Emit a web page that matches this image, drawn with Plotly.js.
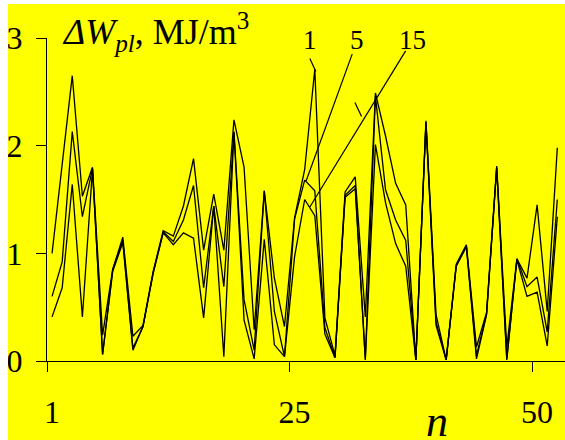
<!DOCTYPE html>
<html>
<head>
<meta charset="utf-8">
<script src="https://cdn.plot.ly/plotly-3.0.1.min.js"></script>
<style>
html,body{margin:0;padding:0;background:#ffffff;}
#chart{position:absolute;left:8px;top:4px;width:557px;height:436px;}
</style>
</head>
<body>
<div id="chart"></div>
<script>
// n index (categories)
const nIndex = [1,2,3,4,5,6,7,8,9,10,11,12,13,14,15,16,17,18,19,20,21,22,23,24,25,26,27,28,29,30,31,32,33,34,35,36,37,38,39,40,41,42,43,44,45,46,47,48,49,50,51];
// three curves (labelled 1, 5, 15)
const curve1 = [1.00,1.83,2.65,1.53,1.80,0.24,0.85,1.15,0.23,0.33,0.83,1.21,1.16,1.44,1.88,1.03,1.55,1.03,2.24,1.80,0.29,1.58,0.77,0.32,1.33,1.78,2.71,0.40,0.05,1.57,1.71,0.41,2.49,2.09,1.65,1.45,0.01,2.23,0.43,0.01,0.90,1.08,0.13,0.45,1.81,0.13,0.95,0.77,1.45,0.46,1.98];
const curve5 = [0.60,0.92,2.13,1.34,1.79,0.06,0.85,1.12,0.12,0.32,0.82,1.20,1.11,1.31,1.63,0.68,1.44,0.69,2.13,0.57,0.10,1.58,0.46,0.04,1.32,1.68,1.58,0.31,0.03,1.54,1.63,0.02,2.46,1.59,1.31,1.12,0.01,2.22,0.36,0.01,0.89,1.07,0.05,0.44,1.80,0.02,0.95,0.69,0.78,0.27,1.50];
const curve15 = [0.41,0.68,1.64,0.41,1.78,0.06,0.83,1.10,0.10,0.32,0.81,1.19,1.08,1.19,1.14,0.40,1.44,0.04,2.13,0.38,0.02,1.13,0.15,0.04,0.97,1.50,1.35,0.25,0.03,1.52,1.60,0.01,2.01,1.47,1.09,0.88,0.01,2.21,0.33,0.01,0.88,1.06,0.02,0.43,1.79,0.01,0.94,0.60,0.64,0.14,1.34];
const curveNames = ["1","5","15"];
// tick labels
const xTickVals = [1,25,49];
const xTickText = ["1","25","50"];
const xTickMarks = [0.5,24.5,48.5];
const yTickVals = [0,1,2,3];

const serif = "Liberation Serif, Times New Roman, serif";
const lineStyle = {color:"#000000", width:1.3};
const traces = [curve1, curve5, curve15].map((ys,i)=>({
  x: nIndex, y: ys, type:"scatter", mode:"lines", name: curveNames[i],
  line: lineStyle, hoverinfo:"skip", cliponaxis:false
}));

const layout = {
  width:557, height:436,
  paper_bgcolor:"#ffff00", plot_bgcolor:"#ffff00",
  showlegend:false,
  margin:{l:39, r:0, t:34, b:79, pad:0},
  xaxis:{
    range:[0.499, 51.76], showgrid:false, zeroline:false,
    showline:true, linecolor:"#000000", linewidth:1,
    tickmode:"array", tickvals:xTickVals, ticktext:xTickText,
    ticks:"", ticklabelstandoff:23,
    tickfont:{family:serif, size:32, color:"#000000"},
    minor:{tickmode:"array", tickvals:xTickMarks, ticks:"outside", ticklen:10, tickwidth:1, tickcolor:"#000000"}
  },
  yaxis:{
    range:[0,3], showgrid:false, zeroline:false,
    showline:true, linecolor:"#000000", linewidth:1,
    tickmode:"array", tickvals:yTickVals,
    ticks:"outside", ticklen:10, tickwidth:1, tickcolor:"#000000",
    ticklabelstandoff:7,
    tickfont:{family:serif, size:32, color:"#000000"}
  },
  annotations:[
    {text:"<i>ΔW</i><sub><i>pl</i></sub>, MJ/m<sup>3</sup>", xref:"paper", yref:"paper",
     x:0.026, y:0.935, xanchor:"left", yanchor:"bottom", showarrow:false,
     font:{family:serif, size:36, color:"#000000"}},
    {text:"<i>n</i>", xref:"paper", yref:"paper", x:(437-47)/518, y:-0.188, xanchor:"center", yanchor:"middle",
     showarrow:false, font:{family:serif, size:44, color:"#000000"}},
    {text:"1", xref:"x", yref:"y", x:26.5, y:2.98, xanchor:"center", yanchor:"middle", showarrow:false,
     font:{family:serif, size:27, color:"#000000"}},
    {text:"5", xref:"x", yref:"y", x:31.2, y:2.98, xanchor:"center", yanchor:"middle", showarrow:false,
     font:{family:serif, size:27, color:"#000000"}},
    {text:"15", xref:"x", yref:"y", x:36.7, y:2.98, xanchor:"center", yanchor:"middle", showarrow:false,
     font:{family:serif, size:27, color:"#000000"}}
  ],
  shapes:[
    {type:"line", xref:"x", yref:"y", x0:26.51, y0:2.81, x1:27.1, y1:2.69, line:{color:"#000000", width:1.2}},
    {type:"line", xref:"x", yref:"y", x0:30.7, y0:2.85, x1:26.13, y1:1.67, line:{color:"#000000", width:1.2}},
    {type:"line", xref:"x", yref:"y", x0:35.99, y0:2.88, x1:26.51, y1:1.43, line:{color:"#000000", width:1.2}},
    {type:"line", xref:"x", yref:"y", x0:30.97, y0:2.40, x1:31.63, y1:2.27, line:{color:"#000000", width:1.2}}
  ]
};
Plotly.newPlot("chart", traces, layout, {displayModeBar:false, staticPlot:true});
</script>
</body>
</html>
